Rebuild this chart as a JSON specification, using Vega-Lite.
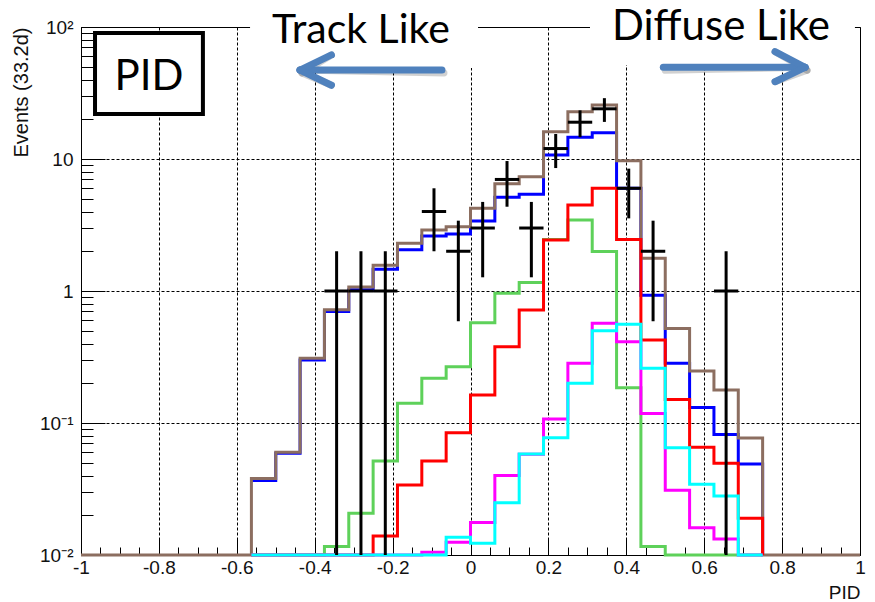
{
  "$schema": "https://vega.github.io/schema/vega-lite/v6.json",
  "width": 779,
  "height": 528,
  "autosize": {"type": "none"},
  "padding": {"left": 81, "top": 27, "right": 15, "bottom": 47},
  "background": "white",
  "config": {
    "view": {"stroke": null},
    "axis": {"labelFont": "Liberation Sans", "titleFont": "Liberation Sans"}
  },
  "datasets": {
    "blue": [
      {"x": -0.5625, "v": 0.0366}, {"x": -0.5, "v": 0.059}, {"x": -0.4375, "v": 0.30}, {"x": -0.375, "v": 0.70},
      {"x": -0.3125, "v": 1.02}, {"x": -0.25, "v": 1.46}, {"x": -0.1875, "v": 2.05}, {"x": -0.125, "v": 2.61},
      {"x": -0.0625, "v": 2.70}, {"x": 0, "v": 3.39}, {"x": 0.0625, "v": 5.13}, {"x": 0.125, "v": 5.40},
      {"x": 0.1875, "v": 10.7}, {"x": 0.25, "v": 14.6}, {"x": 0.3125, "v": 15.8}, {"x": 0.375, "v": 6.0},
      {"x": 0.4375, "v": 0.93}, {"x": 0.5, "v": 0.283}, {"x": 0.5625, "v": 0.131}, {"x": 0.625, "v": 0.082},
      {"x": 0.6875, "v": 0.049}, {"x": 0.75, "v": 0}
    ],
    "brown": [
      {"x": -1, "v": 0}, {"x": -0.5625, "v": 0.038}, {"x": -0.5, "v": 0.06}, {"x": -0.4375, "v": 0.31}, {"x": -0.375, "v": 0.72},
      {"x": -0.3125, "v": 1.07}, {"x": -0.25, "v": 1.57}, {"x": -0.1875, "v": 2.3}, {"x": -0.125, "v": 2.9},
      {"x": -0.0625, "v": 3.07}, {"x": 0, "v": 4.23}, {"x": 0.0625, "v": 6.5}, {"x": 0.125, "v": 7.35},
      {"x": 0.1875, "v": 16.1}, {"x": 0.25, "v": 22.8}, {"x": 0.3125, "v": 25.7}, {"x": 0.375, "v": 9.7},
      {"x": 0.4375, "v": 1.77}, {"x": 0.5, "v": 0.52}, {"x": 0.5625, "v": 0.248}, {"x": 0.625, "v": 0.178},
      {"x": 0.6875, "v": 0.077}, {"x": 0.75, "v": 0}, {"x": 1, "v": 0}
    ],
    "green": [
      {"x": -0.5625, "v": 0}, {"x": -0.5, "v": 0}, {"x": -0.4375, "v": 0}, {"x": -0.375, "v": 0.0116},
      {"x": -0.3125, "v": 0.0207}, {"x": -0.25, "v": 0.0515}, {"x": -0.1875, "v": 0.141}, {"x": -0.125, "v": 0.218},
      {"x": -0.0625, "v": 0.267}, {"x": 0, "v": 0.575}, {"x": 0.0625, "v": 0.96}, {"x": 0.125, "v": 1.16},
      {"x": 0.1875, "v": 2.46}, {"x": 0.25, "v": 3.45}, {"x": 0.3125, "v": 1.99}, {"x": 0.375, "v": 0.185},
      {"x": 0.4375, "v": 0.0116}, {"x": 0.5, "v": 0}, {"x": 0.5625, "v": 0}, {"x": 0.625, "v": 0},
      {"x": 0.6875, "v": 0}, {"x": 0.75, "v": 0}
    ],
    "red": [
      {"x": -0.5625, "v": 0}, {"x": -0.5, "v": 0}, {"x": -0.4375, "v": 0}, {"x": -0.375, "v": 0},
      {"x": -0.3125, "v": 0}, {"x": -0.25, "v": 0.0139}, {"x": -0.1875, "v": 0.0339}, {"x": -0.125, "v": 0.0515},
      {"x": -0.0625, "v": 0.0845}, {"x": 0, "v": 0.163}, {"x": 0.0625, "v": 0.378}, {"x": 0.125, "v": 0.718},
      {"x": 0.1875, "v": 2.43}, {"x": 0.25, "v": 4.48}, {"x": 0.3125, "v": 6.0}, {"x": 0.375, "v": 2.46},
      {"x": 0.4375, "v": 0.425}, {"x": 0.5, "v": 0.151}, {"x": 0.5625, "v": 0.0655}, {"x": 0.625, "v": 0.0495},
      {"x": 0.6875, "v": 0.019}, {"x": 0.75, "v": 0}
    ],
    "magenta": [
      {"x": -0.5625, "v": 0}, {"x": -0.5, "v": 0}, {"x": -0.4375, "v": 0}, {"x": -0.375, "v": 0},
      {"x": -0.3125, "v": 0}, {"x": -0.25, "v": 0}, {"x": -0.1875, "v": 0}, {"x": -0.125, "v": 0.0105},
      {"x": -0.0625, "v": 0.0125}, {"x": 0, "v": 0.0176}, {"x": 0.0625, "v": 0.040}, {"x": 0.125, "v": 0.058},
      {"x": 0.1875, "v": 0.107}, {"x": 0.25, "v": 0.283}, {"x": 0.3125, "v": 0.57}, {"x": 0.375, "v": 0.413},
      {"x": 0.4375, "v": 0.118}, {"x": 0.5, "v": 0.031}, {"x": 0.5625, "v": 0.0161}, {"x": 0.625, "v": 0.0132},
      {"x": 0.6875, "v": 0}, {"x": 0.75, "v": 0}
    ],
    "cyan": [
      {"x": -0.5625, "v": 0}, {"x": -0.5, "v": 0}, {"x": -0.4375, "v": 0}, {"x": -0.375, "v": 0},
      {"x": -0.3125, "v": 0}, {"x": -0.25, "v": 0}, {"x": -0.1875, "v": 0}, {"x": -0.125, "v": 0},
      {"x": -0.0625, "v": 0.0136}, {"x": 0, "v": 0.0123}, {"x": 0.0625, "v": 0.0249}, {"x": 0.125, "v": 0.0582},
      {"x": 0.1875, "v": 0.0774}, {"x": 0.25, "v": 0.2}, {"x": 0.3125, "v": 0.50}, {"x": 0.375, "v": 0.56},
      {"x": 0.4375, "v": 0.26}, {"x": 0.5, "v": 0.065}, {"x": 0.5625, "v": 0.0343}, {"x": 0.625, "v": 0.028},
      {"x": 0.6875, "v": 0}, {"x": 0.75, "v": 0}
    ],
    "obs": [
      {"c": -0.34375, "x0": -0.375, "x1": -0.3125, "n": 1, "lo": 0, "hi": 2},
      {"c": -0.28125, "x0": -0.3125, "x1": -0.25, "n": 1, "lo": 0, "hi": 2},
      {"c": -0.21875, "x0": -0.25, "x1": -0.1875, "n": 1, "lo": 0, "hi": 2},
      {"c": -0.09375, "x0": -0.125, "x1": -0.0625, "n": 4, "lo": 2, "hi": 6},
      {"c": -0.03125, "x0": -0.0625, "x1": 0, "n": 2, "lo": 0.59, "hi": 3.41},
      {"c": 0.03125, "x0": 0, "x1": 0.0625, "n": 3, "lo": 1.27, "hi": 4.73},
      {"c": 0.09375, "x0": 0.0625, "x1": 0.125, "n": 7, "lo": 4.35, "hi": 9.65},
      {"c": 0.15625, "x0": 0.125, "x1": 0.1875, "n": 3, "lo": 1.27, "hi": 4.73},
      {"c": 0.21875, "x0": 0.1875, "x1": 0.25, "n": 12, "lo": 8.54, "hi": 15.46},
      {"c": 0.28125, "x0": 0.25, "x1": 0.3125, "n": 19, "lo": 14.64, "hi": 23.36},
      {"c": 0.34375, "x0": 0.3125, "x1": 0.375, "n": 24, "lo": 19.1, "hi": 28.9},
      {"c": 0.40625, "x0": 0.375, "x1": 0.4375, "n": 6, "lo": 3.55, "hi": 8.45},
      {"c": 0.46875, "x0": 0.4375, "x1": 0.5, "n": 2, "lo": 0.59, "hi": 3.41},
      {"c": 0.65625, "x0": 0.625, "x1": 0.6875, "n": 1, "lo": 0, "hi": 2}
    ],
    "boxes": [
      {"p0": -0.566, "p1": 0.0193, "e0": 48.9, "e1": 100},
      {"p0": 0.3068, "p1": 0.987, "e0": 51.5, "e1": 100}
    ],
    "arrows": [
      {"p0": -0.0732, "p1": -0.4377, "e0": 47.2, "e1": 47.2},
      {"p0": -0.4377, "p1": -0.357, "e0": 47.2, "e1": 61.4},
      {"p0": -0.4377, "p1": -0.357, "e0": 47.2, "e1": 36.2},
      {"p0": 0.495, "p1": 0.859, "e0": 49.5, "e1": 49.5},
      {"p0": 0.859, "p1": 0.7818, "e0": 49.5, "e1": 65.0},
      {"p0": 0.859, "p1": 0.7818, "e0": 49.5, "e1": 38.5}
    ]
  },
  "layer": [
    {
      "data": {"name": "blue"},
      "mark": {"type": "line", "interpolate": "step-after", "color": "#0000ff", "strokeWidth": 3},
      "encoding": {
        "x": {"field": "x", "type": "quantitative",
          "scale": {"type": "linear", "domain": [-1, 1], "nice": false, "zero": false},
          "axis": {"orient": "bottom", "values": [-1, -0.8, -0.6, -0.4, -0.2, 0, 0.2, 0.4, 0.6, 0.8, 1],
            "format": ".1~f", "labelExpr": "replace(datum.label, '\u2212', '-')",
            "grid": true, "gridColor": "#000", "gridDash": [3, 2], "gridWidth": 1,
            "tickSize": -16, "tickColor": "#000", "tickWidth": 1,
            "domain": true, "domainColor": "#000", "domainWidth": 1,
            "labelFontSize": 19, "labelColor": "#111", "labelPadding": 19, "labelFlush": false, "labelOverlap": false,
            "title": "PID", "titleAnchor": "end", "titleFontSize": 19, "titleFontWeight": "normal", "titleColor": "#111", "titlePadding": 6}},
        "y": {"field": "v", "type": "quantitative",
          "scale": {"type": "log", "domain": [0.01, 100], "nice": false, "clamp": true},
          "axis": {"orient": "left", "values": [0.01, 0.1, 1, 10, 100],
            "labelExpr": "datum.value < 0.05 ? '10⁻²' : datum.value < 0.5 ? '10⁻¹' : datum.value < 5 ? '1' : datum.value < 50 ? '10' : '10²'",
            "grid": true, "gridColor": "#000", "gridDash": [3, 2], "gridWidth": 1,
            "tickSize": -24, "tickColor": "#000", "tickWidth": 1,
            "domain": true, "domainColor": "#000", "domainWidth": 1,
            "labelFontSize": 19, "labelColor": "#111", "labelPadding": 32, "labelFlush": false, "labelOverlap": false,
            "title": "Events (33.2d)", "titleAnchor": "end", "titleFontSize": 20, "titleFontWeight": "normal", "titleColor": "#111", "titlePadding": 8}}
      }
    },
    {
      "data": {"name": "brown"},
      "mark": {"type": "line", "interpolate": "step-after", "color": "#8c6e60", "strokeWidth": 3},
      "encoding": {
        "x": {"field": "x", "type": "quantitative",
          "scale": {"type": "linear", "domain": [-1, 1], "nice": false, "zero": false},
          "axis": {"orient": "bottom", "values": [-0.95, -0.9, -0.85, -0.75, -0.7, -0.65, -0.55, -0.5, -0.45, -0.35, -0.3, -0.25, -0.15, -0.1, -0.05, 0.05, 0.1, 0.15, 0.25, 0.3, 0.35, 0.45, 0.5, 0.55, 0.65, 0.7, 0.75, 0.85, 0.9, 0.95],
            "labels": false, "grid": false, "domain": false, "tickSize": -8, "tickColor": "#000", "tickWidth": 1, "title": null}},
        "y": {"field": "v", "type": "quantitative",
          "scale": {"type": "log", "domain": [0.01, 100], "nice": false, "clamp": true},
          "axis": {"orient": "left", "values": [0.02, 0.03, 0.04, 0.05, 0.06, 0.07, 0.08, 0.09, 0.2, 0.3, 0.4, 0.5, 0.6, 0.7, 0.8, 0.9, 2, 3, 4, 5, 6, 7, 8, 9, 20, 30, 40, 50, 60, 70, 80, 90],
            "labels": false, "grid": false, "domain": false, "tickSize": -12, "tickColor": "#000", "tickWidth": 1, "title": null}}
      }
    },
    {
      "data": {"name": "green"},
      "mark": {"type": "line", "interpolate": "step-after", "color": "#5ed15a", "strokeWidth": 3},
      "encoding": {
        "x": {"field": "x", "type": "quantitative",
          "scale": {"type": "linear", "domain": [-1, 1], "nice": false, "zero": false},
          "axis": {"orient": "top", "labels": false, "ticks": false, "grid": false, "domain": true, "domainColor": "#000", "domainWidth": 1, "title": null}},
        "y": {"field": "v", "type": "quantitative",
          "scale": {"type": "log", "domain": [0.01, 100], "nice": false, "clamp": true},
          "axis": {"orient": "right", "labels": false, "ticks": false, "grid": false, "domain": true, "domainColor": "#000", "domainWidth": 1, "title": null}}
      }
    },
    {
      "data": {"name": "red"},
      "mark": {"type": "line", "interpolate": "step-after", "color": "#ff0000", "strokeWidth": 3},
      "encoding": {
        "x": {"field": "x", "type": "quantitative", "scale": {"type": "linear", "domain": [-1, 1], "nice": false, "zero": false}, "axis": null},
        "y": {"field": "v", "type": "quantitative", "scale": {"type": "log", "domain": [0.01, 100], "nice": false, "clamp": true}, "axis": null}
      }
    },
    {
      "data": {"name": "magenta"},
      "mark": {"type": "line", "interpolate": "step-after", "color": "#ff00ff", "strokeWidth": 3},
      "encoding": {
        "x": {"field": "x", "type": "quantitative", "scale": {"type": "linear", "domain": [-1, 1], "nice": false, "zero": false}, "axis": null},
        "y": {"field": "v", "type": "quantitative", "scale": {"type": "log", "domain": [0.01, 100], "nice": false, "clamp": true}, "axis": null}
      }
    },
    {
      "data": {"name": "cyan"},
      "mark": {"type": "line", "interpolate": "step-after", "color": "#00ffff", "strokeWidth": 3},
      "encoding": {
        "x": {"field": "x", "type": "quantitative", "scale": {"type": "linear", "domain": [-1, 1], "nice": false, "zero": false}, "axis": null},
        "y": {"field": "v", "type": "quantitative", "scale": {"type": "log", "domain": [0.01, 100], "nice": false, "clamp": true}, "axis": null}
      }
    },
    {
      "data": {"name": "obs"},
      "mark": {"type": "rule", "color": "#000", "strokeWidth": 3},
      "encoding": {
        "x": {"field": "c", "type": "quantitative", "scale": {"type": "linear", "domain": [-1, 1], "nice": false, "zero": false}, "axis": null},
        "y": {"field": "lo", "type": "quantitative", "scale": {"type": "log", "domain": [0.01, 100], "nice": false, "clamp": true}, "axis": null},
        "y2": {"field": "hi"}
      }
    },
    {
      "data": {"name": "obs"},
      "mark": {"type": "rule", "color": "#000", "strokeWidth": 3},
      "encoding": {
        "x": {"field": "x0", "type": "quantitative", "scale": {"type": "linear", "domain": [-1, 1], "nice": false, "zero": false}, "axis": null},
        "x2": {"field": "x1"},
        "y": {"field": "n", "type": "quantitative", "scale": {"type": "log", "domain": [0.01, 100], "nice": false, "clamp": true}, "axis": null}
      }
    },
    {
      "data": {"name": "boxes"},
      "mark": {"type": "rect", "fill": "white", "stroke": null},
      "encoding": {
        "x": {"field": "p0", "type": "quantitative", "scale": {"type": "linear", "domain": [-1, 1], "nice": false, "zero": false}, "axis": null},
        "x2": {"field": "p1"},
        "y": {"field": "e0", "type": "quantitative", "scale": {"type": "log", "domain": [0.01, 100], "nice": false, "clamp": true}, "axis": null},
        "y2": {"field": "e1"}
      }
    },
    {
      "data": {"values": [{"label": "Track Like"}]},
      "mark": {"type": "text", "font": "Lato", "fontSize": 41, "align": "left", "baseline": "alphabetic", "color": "#000"},
      "encoding": {
        "x": {"datum": -0.5096, "type": "quantitative", "scale": {"type": "linear", "domain": [-1, 1], "nice": false, "zero": false}, "axis": null},
        "y": {"datum": 75.7, "type": "quantitative", "scale": {"type": "log", "domain": [0.01, 100], "nice": false, "clamp": true}, "axis": null},
        "text": {"field": "label"}
      }
    },
    {
      "data": {"values": [{"label": "Diffuse Like"}]},
      "mark": {"type": "text", "font": "Lato", "fontSize": 42, "align": "left", "baseline": "alphabetic", "color": "#000"},
      "encoding": {
        "x": {"datum": 0.3633, "type": "quantitative", "scale": {"type": "linear", "domain": [-1, 1], "nice": false, "zero": false}, "axis": null},
        "y": {"datum": 79.7, "type": "quantitative", "scale": {"type": "log", "domain": [0.01, 100], "nice": false, "clamp": true}, "axis": null},
        "text": {"field": "label"}
      }
    },
    {
      "data": {"values": [{"label": "PID"}]},
      "mark": {"type": "rect", "fill": "white", "stroke": "#000", "strokeWidth": 4},
      "encoding": {
        "x": {"datum": -0.964, "type": "quantitative", "scale": {"type": "linear", "domain": [-1, 1], "nice": false, "zero": false}, "axis": null},
        "x2": {"datum": -0.687},
        "y": {"datum": 21.9, "type": "quantitative", "scale": {"type": "log", "domain": [0.01, 100], "nice": false, "clamp": true}, "axis": null},
        "y2": {"datum": 90.1}
      }
    },
    {
      "data": {"values": [{"label": "PID"}]},
      "mark": {"type": "text", "font": "Lato", "fontSize": 42, "align": "center", "baseline": "alphabetic", "color": "#000"},
      "encoding": {
        "x": {"datum": -0.8254, "type": "quantitative", "scale": {"type": "linear", "domain": [-1, 1], "nice": false, "zero": false}, "axis": null},
        "y": {"datum": 33.3, "type": "quantitative", "scale": {"type": "log", "domain": [0.01, 100], "nice": false, "clamp": true}, "axis": null},
        "text": {"field": "label"}
      }
    },
    {
      "data": {"name": "arrows"},
      "mark": {"type": "rule", "color": "#000", "opacity": 0.18, "strokeWidth": 7, "strokeCap": "round", "xOffset": 2, "yOffset": 3},
      "encoding": {
        "x": {"field": "p0", "type": "quantitative", "scale": {"type": "linear", "domain": [-1, 1], "nice": false, "zero": false}, "axis": null},
        "x2": {"field": "p1"},
        "y": {"field": "e0", "type": "quantitative", "scale": {"type": "log", "domain": [0.01, 100], "nice": false, "clamp": true}, "axis": null},
        "y2": {"field": "e1"}
      }
    },
    {
      "data": {"name": "arrows"},
      "mark": {"type": "rule", "color": "#4f81bd", "strokeWidth": 7, "strokeCap": "round"},
      "encoding": {
        "x": {"field": "p0", "type": "quantitative", "scale": {"type": "linear", "domain": [-1, 1], "nice": false, "zero": false}, "axis": null},
        "x2": {"field": "p1"},
        "y": {"field": "e0", "type": "quantitative", "scale": {"type": "log", "domain": [0.01, 100], "nice": false, "clamp": true}, "axis": null},
        "y2": {"field": "e1"}
      }
    }
  ],
  "resolve": {"axis": {"x": "independent", "y": "independent"}}
}
